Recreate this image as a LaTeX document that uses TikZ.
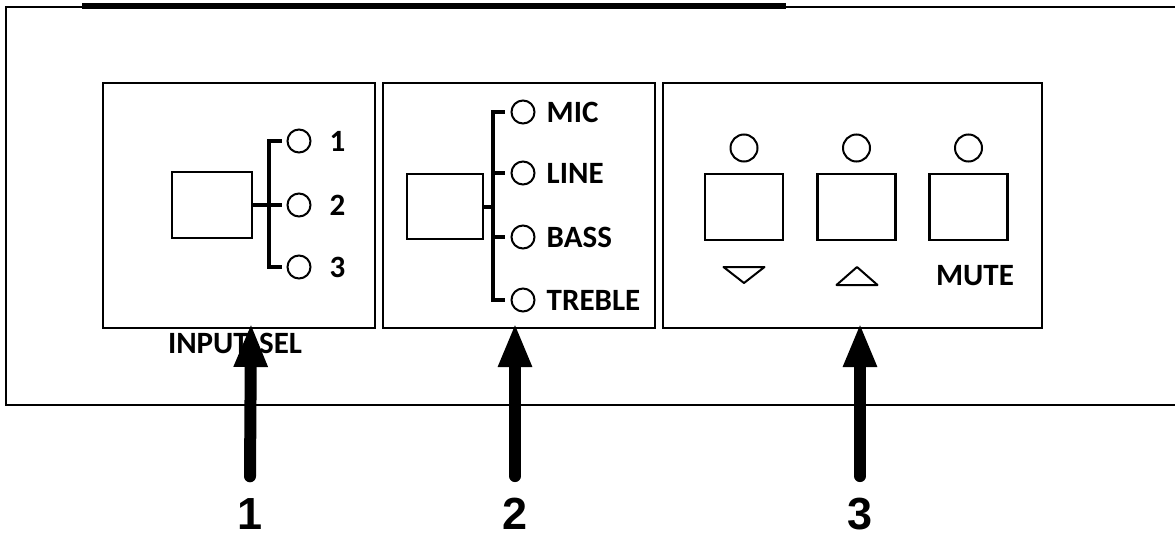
\documentclass[tikz,border=0pt]{standalone}
\usepackage{fontspec}
\setmainfont{Carlito}
\newfontfamily\calloutfont{Liberation Sans}
\usetikzlibrary{arrows.meta,positioning,calc}

\begin{document}
\begin{tikzpicture}[x=1pt, y=-1pt,
  panel/.style={draw, line width=2.2pt, minimum width=272pt, minimum height=245pt, inner sep=0pt},
  key/.style={draw, line width=2.4pt, minimum width=78pt, minimum height=66pt, inner sep=0pt},
  led/.style={draw, circle, line width=2pt, minimum size=23pt, inner sep=0pt},
  bigled/.style={led, minimum size=27pt},
  bus/.style={line width=4pt},
  lbl/.style={font=\fontsize{31}{31}\selectfont\bfseries, inner sep=1pt, text depth=0pt},
  callout/.style={font=\calloutfont\fontsize{45}{45}\selectfont\bfseries, inner sep=0pt, text depth=0pt},
  bigarrow/.style={line width=12pt, line cap=round, -{Triangle[width=31pt,length=44pt]}}]
  \useasboundingbox (0,0) rectangle (1175,535);
  % front plate, cut at the top and the right
  \fill (82,3) rectangle (786,9);
  \draw[line width=2.4pt] (1175,7) -- (6,7) -- (6,405) -- (1175,405);
  % input select
  \node[panel] (box1) at (239,205.5) {};
  \node[key, minimum width=80pt] (sq1) at (212,205) {};
  \node[led] (c1) at (299,141) {};
  \node[led] (c2) at (299,205) {};
  \node[led] (c3) at (299,267) {};
  \foreach \n in {1,2,3}
    \node[lbl, anchor=west] (n\n) at ([xshift=17pt]c\n.east) {\n};
  \draw[bus] ([xshift=-5pt]c1.west) -- ++(-13,0) |- ([xshift=-5pt]c3.west);
  \draw[bus] (sq1.east) -- ([xshift=-5pt]c2.west);
  \node[lbl] (insel) at (235,343) {INPUT\,\,SEL};
  % mode select
  \node[panel] (box2) at (519,205.5) {};
  \node[key, minimum width=76pt, minimum height=65pt] (sq2) at (445,206.5) {};
  \node[led] (m1) at (523,112) {};
  \node[led] (m2) at (523,173) {};
  \node[led] (m3) at (523,237) {};
  \node[led] (m4) at (523,300) {};
  \node[lbl, anchor=west] (mic) at ([xshift=10pt]m1.east) {MIC};
  \node[lbl, anchor=west] (line) at ([xshift=10pt]m2.east) {LINE};
  \node[lbl, anchor=west] (bass) at ([xshift=10pt]m3.east) {BASS};
  \node[lbl, anchor=west] (treble) at ([xshift=10pt]m4.east) {TREBLE};
  \draw[bus] ([xshift=-6pt]m1.west) -- ++(-12,0) |- ([xshift=-6pt]m4.west);
  \foreach \m in {m2,m3}
    \draw[bus] ([xshift=-6pt]\m.west) -- ++(-12,0);
  \draw[bus] (sq2.east) -- ++(10,0);
  % level and mute
  \node[panel, minimum width=379pt] (box3) at (852.5,205.5) {};
  \node[key] (down) at (744,207) {};
  \node[key] (up) at (856.5,207) {};
  \node[key] (mute) at (968.5,207) {};
  \foreach \k in {down,up,mute}
    \node[bigled] (l\k) at ($(\k.center)+(0,-59)$) {};
  \draw[line width=2pt, line join=round] (723.5,267) -- (764.5,267) -- (744,283) -- cycle;
  \draw[line width=2pt, line join=round] (836.5,285) -- (877.5,285) -- (857,267) -- cycle;
  \node[lbl] (mutetxt) at (975,275) {MUTE};
  % callouts
  \node[callout] (k1) at (250,514) {1};
  \node[callout] (k2) at (515,514) {2};
  \node[callout] (k3) at (860,514) {3};
  \coordinate (t1) at (251,323);
  \coordinate (t2) at (515,323);
  \coordinate (t3) at (860,323);
  \foreach \i in {1,2,3}
    \draw[bigarrow] ([yshift=22pt]k\i.north) -- (t\i);
\end{tikzpicture}
\end{document}
